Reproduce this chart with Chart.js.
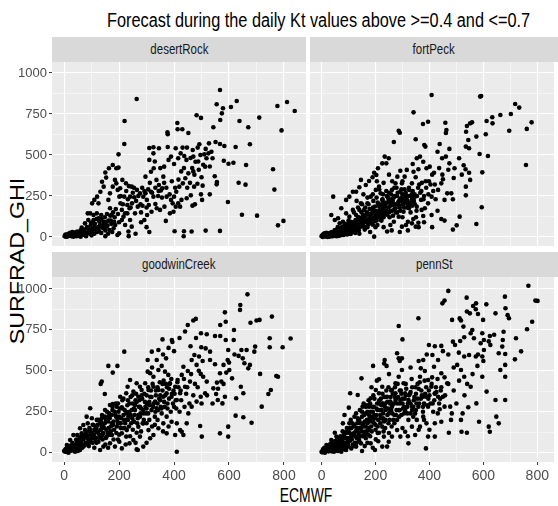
<!DOCTYPE html>
<html>
<head>
<meta charset="utf-8">
<script src="https://cdn.jsdelivr.net/npm/chart.js@4.4.1/dist/chart.umd.min.js"></script>
<style>
  body { margin: 0; width: 558px; height: 506px; background: #fff; position: relative; overflow: hidden;
         font-family: 'Liberation Sans', Arial, sans-serif; }
  canvas { position: absolute; left: 0; top: 0; }
  .strip { position: absolute; background: #d9d9d9; color: #1a1a1a; font-size: 14px; text-align: center; line-height: 25px; height: 25px; }
  .strip span { display: inline-block; transform: scaleX(0.82); }
  .lbl { position: absolute; color: #000; white-space: nowrap; line-height: 1; }
</style>
</head>
<body>
<div class="lbl" id="title" style="left:107px;top:10px;font-size:20px;transform-origin:0 0;">Forecast during the daily Kt values above &gt;=0.4 and &lt;=0.7</div>
<div class="strip" style="left:52px;top:37px;width:254px;"><span>desertRock</span></div>
<div class="strip" style="left:310px;top:37px;width:248px;"><span>fortPeck</span></div>
<div class="strip" style="left:52px;top:252px;width:254px;"><span>goodwinCreek</span></div>
<div class="strip" style="left:310px;top:252px;width:248px;"><span>pennSt</span></div>
<div class="lbl" id="ytitle" style="left:17px;top:261px;font-size:20px;">SURFRAD_GHI</div>
<div class="lbl" id="xtitle" style="left:306px;top:495px;font-size:20px;">ECMWF</div>

<canvas id="c0" width="558" height="506"></canvas>
<canvas id="c1" width="558" height="506"></canvas>
<canvas id="c2" width="558" height="506"></canvas>
<canvas id="c3" width="558" height="506"></canvas>

<script>
// axis ticks shared by all facets
const xTicks = [0, 200, 400, 600, 800];
const yTicks = [0, 250, 500, 750, 1000];
const xGrid = [0, 100, 200, 300, 400, 500, 600, 700, 800];
const yGrid = [0, 125, 250, 375, 500, 625, 750, 875, 1000];

// SURFRAD_GHI vs ECMWF, per station
const desertRock = [
  [264,841],[220,707],[219,567],[198,504],[567,896],[628,829],[607,793],[555,809],[578,785],[574,754],[568,713],[543,669],
  [482,742],[498,726],[412,695],[413,657],[430,657],[452,634],[710,728],[638,707],[670,669],[776,799],[811,823],[839,768],
  [791,650],[676,565],[624,549],[551,579],[527,571],[567,567],[583,555],[525,510],[515,537],[510,504],[492,565],[486,545],
  [468,530],[447,545],[431,545],[406,541],[377,549],[376,638],[377,626],[345,541],[325,547],[310,543],[325,510],[581,465],
  [598,447],[616,453],[662,439],[635,331],[660,319],[548,370],[555,321],[556,335],[596,213],[647,136],[702,130],[760,413],
  [765,289],[778,71],[798,98],[567,37],[515,39],[464,33],[436,35],[435,4],[402,35],[504,313],[498,260],[502,226],
  [476,199],[467,191],[513,429],[500,364],[485,325],[473,307],[461,254],[446,236],[427,226],[422,185],[415,205],[406,185],
  [398,154],[385,144],[370,98],[395,205],[373,246],[352,283],[342,250],[332,201],[318,154],[302,134],[292,104],[308,195],
  [296,266],[296,368],[316,398],[326,419],[336,348],[345,317],[357,297],[361,368],[364,429],[380,470],[389,490],[400,445],
  [415,480],[424,510],[437,494],[445,470],[460,482],[470,490],[478,459],[452,388],[441,358],[432,327],[419,307],[408,276],
  [400,246],[389,226],[365,185],[349,165],[337,175],[325,246],[316,276],[301,226],[288,246],[276,266],[265,287],[255,242],
  [247,205],[238,175],[230,144],[240,104],[246,63],[234,33],[222,73],[216,124],[210,165],[205,205],[201,246],[195,287],
  [190,327],[185,348],[177,307],[167,266],[161,226],[167,175],[173,134],[182,93],[194,12],[200,22],[155,63],[143,93],
  [135,134],[119,144],[107,104],[97,73],[82,53],[70,33],[56,12],[40,22],[28,12],[16,6],[7,2],[4,12],[22,26],[34,2],
  [48,33],[64,57],[76,83],[88,104],[95,144],[107,134],[125,114],[131,73],[143,53],[155,93],[165,43],[180,53],[186,73],
  [210,104],[222,144],[230,195],[240,246],[246,307],[225,327],[212,348],[204,297],[219,246],[258,144],[268,185],[190,419],
  [198,423],[177,439],[163,419],[150,393],[153,362],[138,337],[144,307],[132,276],[120,246],[110,226],[125,205],[102,205],
  [86,144],[60,40],[20,15],[10,8],[45,5],[30,30],[110,60],[120,30],[135,25],[150,40],[100,10],[90,50],[70,15],[160,20],
  [175,30],[235,5],[280,150],[285,190],[530,260],[530,430],[540,480],[470,400],[490,410],[350,420],[330,460],[310,470],
  [2,5],[6,15],[12,3],[15,20],[18,8],[24,14],[27,4],[32,18],[36,10],[42,28],[46,15],[52,8],[55,25],[62,20],[66,35],
  [72,45],[78,25],[84,60],[92,38],[98,88],[104,50],[112,80],[118,110],[124,60],[128,95],[136,110],[140,70],[148,120],
  [156,140],[162,100],[168,130],[172,80],[178,150],[184,120],[188,170],[196,140],[200,90],[206,250],[214,200],[226,280],
  [232,230],[236,310],[242,180],[250,270],[254,300],[262,220],[270,250],[278,200],[284,300],[292,280],[300,180],[306,290],
  [312,330],[320,270],[332,300],[344,280],[356,240],[364,330],[372,300],[384,260],[392,340],[404,300],[416,350],[426,400],
  [436,420],[448,300],[458,330],[466,420],[474,380],[488,460],[496,500],[506,440],[518,480],[536,520],[300,60],[310,30],
  [280,90],[260,20],[150,5],[110,20],[80,5],[60,2],
  [8,4],[14,12],[26,20],[38,6],[50,18],[58,30],[68,22],[74,12],[86,28],[94,20],[104,36],[116,48],[126,40],[138,60],
  [146,80],[158,70],[170,100],[180,90]
];

const fortPeck = [
  [408,866],[588,856],[592,860],[718,811],[733,789],[779,699],[761,659],[758,439],[696,648],[702,750],[663,744],[633,730],
  [612,707],[634,693],[609,626],[617,494],[586,506],[574,612],[558,699],[551,693],[539,677],[536,642],[544,591],[535,551],
  [547,541],[341,760],[376,689],[395,703],[459,697],[461,634],[463,652],[349,596],[286,648],[290,636],[268,579],[381,561],
  [385,551],[430,520],[438,567],[474,537],[447,480],[461,490],[474,449],[493,419],[527,437],[534,413],[547,392],[551,348],
  [535,307],[535,254],[596,394],[594,181],[574,79],[487,45],[512,124],[501,71],[456,100],[444,110],[408,134],[481,266],
  [487,230],[466,266],[456,226],[423,230],[432,287],[444,327],[450,352],[417,392],[401,429],[377,459],[389,419],[359,413],
  [341,398],[365,490],[353,480],[338,445],[349,364],[335,327],[325,287],[310,226],[292,276],[298,327],[292,404],[308,368],
  [316,409],[281,368],[274,327],[261,287],[240,449],[249,480],[234,490],[225,449],[209,419],[195,392],[203,378],[189,364],
  [176,341],[164,317],[146,348],[140,303],[128,276],[116,276],[103,246],[91,226],[73,175],[43,246],[36,134],[49,104],
  [61,114],[67,83],[79,93],[91,63],[109,63],[116,33],[134,43],[152,73],[164,93],[182,104],[195,2],[207,73],[219,104],
  [231,144],[243,33],[255,73],[268,93],[286,124],[298,63],[313,73],[320,93],[335,83],[349,63],[359,87],[371,165],[377,128],
  [383,175],[395,205],[408,246],[369,226],[353,185],[341,215],[324,175],[304,154],[286,195],[274,175],[261,205],[249,226],
  [237,185],[225,226],[219,266],[213,307],[201,287],[182,246],[170,205],[158,165],[146,205],[140,165],[128,134],[116,165],
  [103,124],[91,144],[79,63],
  [0,5],[5,0],[10,8],[15,3],[20,12],[25,5],[30,15],[35,8],[40,20],[45,10],[50,25],[55,5],[60,18],[8,20],[18,25],[28,2],
  [38,30],[48,40],[58,35],[68,28],[75,45],[85,30],[90,55],[95,15],[100,40],[110,35],[70,10],[80,60],[105,70],[115,55],
  [120,90],[125,25],[135,50],[145,80],[150,110],[160,90],[170,60],[175,110],[185,140],[190,75],[200,130],[210,160],
  [220,140],[225,175],[230,120],[240,160],[250,150],[255,190],[265,130],[270,170],[280,150],[290,230],[300,120],[310,250],
  [320,200],[330,150],[335,230],[345,260],[350,120],[4,14],[12,22],[22,0],[32,26],[42,4],[52,14],[62,6],[65,44],[72,20],
  [82,12],[88,38],[96,28],[102,58],[108,18],[112,88],[118,44],[124,70],[130,100],[136,120],[142,60],[148,150],[154,130],
  [162,180],[168,150],[174,200],[180,120],[186,170],[192,220],[198,160],[204,240],[210,190],[216,120],[222,200],[228,260],
  [234,210],[240,280],[246,240],[252,120],[258,260],[264,220],[272,250],[278,300],[284,210],[290,180],[296,240],[302,200],
  [308,290],[314,180],[320,250],[328,210],[336,190],[344,240],[352,160],[358,300],[366,270],[372,330],[380,250],[388,300],
  [398,340],[410,380],[420,320],[436,420],[448,380],[470,410],[490,360],[510,480],[520,380],[200,60],[180,30],[160,45],
  [140,20],[230,60],[260,40],[290,30],[320,40],[340,110],[360,60],[380,90],[410,60],[430,160],[300,340],[262,340],[250,380],
  [230,330],[214,290],[190,260],[170,240],[150,200],[135,180],[120,150],[100,100],[90,80],[60,60],[130,220],[155,260],[205,340],
  [44,30],[52,42],[58,20],[64,52],[70,38],[76,60],[82,48],[86,70],[92,32],[98,78],[104,54],[108,92],[114,66],[120,40],
  [126,104],[130,78],[134,56],[140,118],[144,92],[150,70],[156,132],[160,108],[164,60],[170,140],[174,96],[178,170],
  [184,82],[188,150],[194,118],[198,186],[204,100],[208,210],[212,140],[218,176],[222,100],[226,230],[232,160],[236,196],
  [242,136],[246,210],[250,270],[256,160],[260,230],[266,196],[270,300],[276,150],[280,250],[286,216],[292,160],[296,290],
  [302,230],[306,180],[312,270],[318,220],[324,300],[330,250],[338,280],[346,200],[354,250],[362,320],[370,280],[378,230],
  [386,340],[396,260],[404,320],[414,280],
  [30,22],[36,4],[46,22],[54,36],[60,10],[66,24],[74,32],[78,14],[84,52],[92,44],[98,20],[104,66],[112,50],[118,80],
  [122,30],[128,60],[132,92],[138,40],[146,110],[152,86],[158,60],[164,130],[168,100],[172,74],[180,140],[184,110],
  [190,180],[196,96],[202,150],[206,120],[214,196],[220,164],[226,120],[230,200],[236,140],[242,250],[248,180],[254,220],
  [262,160],[268,240],[274,200],[282,270],[288,190],[294,220],[300,260],[308,210],[316,240],[326,190],[334,260],[342,220]
];

const goodwinCreek = [
  [667,967],[641,902],[640,872],[585,857],[588,800],[756,831],[711,811],[700,807],[678,794],[824,697],[795,644],[748,699],
  [748,644],[695,648],[692,617],[664,627],[645,627],[635,591],[650,576],[656,546],[676,536],[670,515],[617,688],[618,749],
  [568,780],[479,817],[470,807],[450,780],[498,729],[519,723],[549,713],[568,713],[588,688],[597,627],[595,566],[601,505],
  [611,454],[590,489],[580,536],[567,485],[549,540],[531,566],[531,617],[515,637],[499,644],[491,587],[474,597],[464,566],
  [482,536],[497,481],[506,464],[519,434],[513,363],[497,342],[482,312],[464,281],[452,240],[446,179],[428,128],[434,108],
  [410,6],[404,108],[422,138],[410,179],[495,163],[501,98],[567,118],[597,98],[597,159],[624,226],[652,216],[682,183],
  [719,281],[743,358],[752,383],[772,468],[778,464],[713,481],[643,403],[652,363],[626,332],[585,342],[576,301],[559,322],
  [553,358],[543,393],[556,428],[572,434],[371,576],[392,688],[394,676],[358,692],[343,627],[337,566],[319,617],[304,566],
  [304,495],[313,485],[325,464],[343,505],[355,530],[367,495],[379,475],[385,424],[404,403],[413,444],[428,475],[434,525],
  [450,499],[458,434],[440,403],[422,363],[410,322],[391,342],[373,363],[361,342],[343,383],[325,403],[307,383],[295,424],
  [282,383],[270,342],[258,291],[246,261],[234,220],[252,189],[270,159],[288,179],[307,138],[313,88],[325,108],[343,149],
  [361,179],[373,220],[391,189],[373,118],[355,240],[337,271],[331,312],[313,342],[301,301],[288,261],[276,220],[264,122],
  [219,617],[194,530],[177,489],[161,530],[137,434],[133,420],[148,358],[167,291],[177,297],[191,281],[204,342],[226,363],
  [231,403],[240,444],[252,373],[276,403],[264,424],[210,277],[228,240],[218,200],[204,179],[189,220],[174,179],[161,220],
  [149,261],[137,210],[119,200],[107,169],[95,271],[86,179],[76,138],[64,118],[48,108],[46,57],[34,37],[22,26],[10,16],
  [4,6],[16,0],[28,16],[40,6],[58,16],[70,37],[82,57],[95,77],[107,98],[125,67],[131,16],[143,37],[155,98],[167,57],
  [174,108],[185,37],[201,67],[210,26],[226,98],[238,57],[252,77],[264,20],[268,16],[276,98],[288,37],[228,138],[210,118],
  [119,128],[137,159],[101,210],[82,220],[70,169],[58,149],[34,108],[22,77],[10,47],
  [0,10],[6,22],[12,4],[18,30],[26,12],[32,50],[38,22],[44,80],[52,36],[56,90],[62,60],[68,100],[74,44],[80,120],[88,80],
  [92,150],[98,110],[104,60],[110,140],[116,90],[122,170],[128,110],[134,190],[140,80],[146,150],[152,200],[158,120],
  [164,240],[170,160],[176,260],[182,140],[188,300],[194,200],[198,250],[206,150],[212,320],[216,230],[222,180],[230,290],
  [236,160],[242,340],[248,210],[254,270],[260,320],[266,180],[272,280],[278,240],[284,330],[290,200],[296,280],[300,350],
  [306,240],[310,310],[318,260],[322,420],[330,220],[334,350],[340,300],[348,430],[352,280],[358,380],[364,310],[370,420],
  [376,270],[382,390],[388,250],[396,300],[402,360],[408,270],[416,400],[420,250],[426,320],[438,280],[444,360],[456,300],
  [470,350],[486,400],[500,300],[520,350],[540,300],[560,390],[580,420],[600,550],[620,600],[160,30],[180,80],[200,110],
  [240,100],[260,60],[300,60],[320,160],[340,200],[360,130],[380,160],[150,50],[110,30],[90,40],[60,30],[50,10],[140,110],
  [196,80],[224,50],[250,140],[280,130],[300,180],[330,170],[350,320],[320,520],[360,600],[380,640],[420,700],[440,740],
  [400,620],[460,650],[480,700],
  [40,20],[48,50],[54,28],[60,76],[66,46],[72,90],[78,60],[84,104],[90,130],[96,70],[102,120],[108,90],[114,160],[118,60],
  [124,130],[130,180],[136,100],[142,170],[148,220],[154,140],[160,190],[166,110],[172,230],[178,170],[184,250],[190,120],
  [196,180],[202,270],[208,210],[214,150],[220,260],[226,200],[232,320],[238,250],[244,180],[250,300],[256,230],[262,360],
  [268,210],[274,320],[280,270],[286,180],[292,360],[298,240],[304,300],[310,200],[316,380],[324,280],[332,250],[340,400],
  [346,330],[354,270],[362,440],[368,350],[376,300],[384,420],[392,360],[400,280],[412,430],[424,380],[436,450],[448,400],
  [462,480],[476,420],[490,500],[504,560],
  [4,18],[10,30],[14,8],[20,42],[26,28],[30,60],[36,14],[42,44],[46,72],[52,20],[56,58],[62,100],[66,30],[70,80],[76,110],
  [80,50],[86,96],[90,60],[94,140],[100,90],[104,170],[110,110],[114,70],[118,150],[124,200],[128,90],[134,140],[138,230],
  [142,120],[148,180],[152,90],[156,250],[162,150],[166,210],[170,130],[176,280],[180,190],[186,230],[192,160],[196,300],
  [200,220],[206,180],[212,270],[216,330],[220,150],[226,250],[232,200],[238,300],[242,230],[248,350],[254,190],[258,260],
  [264,310],[270,230],[276,280],[282,350],[288,240],[294,310],[300,270],[306,400],[312,290],[318,340],[326,300],[334,380],
  [342,260],[350,350],[358,420],[366,280],[374,400],[382,330],[390,450],[398,380],[406,320]
];

const pennSt = [
  [767,1020],[793,929],[801,927],[781,800],[762,754],[740,619],[717,570],[721,699],[680,953],[682,882],[695,821],[690,840],
  [645,851],[611,906],[573,912],[572,876],[562,896],[538,947],[539,862],[550,851],[580,847],[599,811],[517,807],[512,820],
  [526,770],[484,811],[470,988],[456,929],[448,912],[359,821],[286,774],[300,692],[398,658],[444,652],[487,678],[495,658],
  [514,682],[529,705],[553,729],[559,749],[565,699],[596,729],[602,688],[590,668],[624,713],[626,658],[675,739],[672,688],
  [670,648],[681,603],[681,536],[681,464],[663,505],[657,607],[602,627],[596,587],[572,587],[547,597],[529,587],[509,611],
  [503,536],[517,505],[529,464],[553,403],[574,301],[544,277],[523,240],[517,200],[519,128],[539,122],[584,189],[620,159],
  [624,128],[648,220],[657,179],[645,322],[681,322],[612,373],[596,464],[578,530],[480,200],[483,240],[472,122],[444,189],
  [431,240],[477,281],[466,424],[444,485],[417,525],[432,566],[411,597],[377,566],[368,515],[365,464],[383,499],[395,444],
  [407,403],[420,363],[432,342],[450,342],[456,281],[438,265],[414,250],[395,281],[377,342],[359,281],[347,240],[335,281],
  [322,322],[310,363],[304,424],[298,576],[286,576],[280,607],[234,566],[241,530],[232,545],[213,448],[191,530],[225,403],
  [213,363],[201,383],[182,332],[176,281],[164,240],[152,281],[134,352],[106,363],[148,454],[101,275],[85,230],[79,179],
  [49,122],[55,98],[36,77],[18,47],[6,16],[0,6],[12,0],[24,16],[43,26],[61,37],[79,57],[97,77],[116,108],[134,128],
  [152,159],[170,179],[188,220],[207,261],[225,301],[243,342],[261,383],[274,424],[286,464],[298,505],[274,322],[261,281],
  [249,240],[237,200],[225,159],[213,122],[201,81],[198,16],[182,57],[164,88],[146,57],[128,37],[110,26],[91,16],[73,6],
  [67,77],[91,128],[103,179],[122,220],[140,200],[158,128],[176,138],[195,179],[219,210],[237,261],[255,312],[274,363],
  [292,322],[310,261],[322,200],[335,159],[347,108],[353,200],[365,159],[377,220],[389,179],[395,98],[387,26],[420,98],
  [249,67],[243,37],[261,98],[280,138],[292,98],[310,128],[322,57],[225,37],[231,98],
  [2,2],[8,10],[14,4],[20,24],[26,8],[30,34],[34,14],[40,44],[46,6],[50,60],[54,20],[58,80],[64,30],[70,100],[74,50],
  [78,130],[84,40],[88,90],[94,150],[98,60],[104,120],[108,200],[112,80],[118,160],[124,100],[128,240],[132,180],[138,110],
  [142,260],[146,150],[150,220],[156,300],[160,190],[166,130],[170,250],[174,320],[178,210],[184,160],[188,280],[192,350],
  [196,230],[200,140],[206,300],[210,200],[216,260],[220,330],[228,240],[232,190],[236,300],[240,380],[246,270],[252,200],
  [256,340],[262,240],[268,300],[272,400],[278,260],[284,340],[288,220],[294,380],[300,300],[306,240],[312,420],[318,280],
  [324,350],[330,240],[336,400],[342,320],[350,360],[356,420],[362,300],[370,380],[376,280],[382,440],[390,340],[398,380],
  [404,300],[410,460],[418,320],[424,400],[436,300],[442,380],[458,350],[470,420],[490,380],[500,300],[510,440],[530,350],
  [540,420],[560,480],[580,600],[600,560],[620,680],[640,720],[120,40],[140,70],[160,40],[180,100],[210,70],[230,130],
  [260,160],[280,200],[300,150],[320,100],[340,220],[360,140],[380,200],[400,140],[420,180],[150,10],[170,60],[190,30],
  [250,120],[270,180],[290,260],[330,300],[350,260],[100,40],[60,10],[40,60],[86,20],[66,50],[110,150],[130,60],[185,400],
  [205,440],[250,480],[290,560],[330,520],[360,560],[390,600],[420,650],[450,620],[470,600],[490,520],
  [36,30],[42,14],[48,48],[52,30],[60,62],[66,20],[72,76],[76,40],[82,100],[86,60],[92,120],[96,36],[102,90],[106,150],
  [112,110],[116,50],[122,170],[126,130],[130,90],[136,200],[140,150],[144,100],[150,250],[154,180],[158,110],[164,280],
  [168,200],[172,150],[176,230],[180,300],[186,190],[190,250],[196,330],[200,210],[204,270],[208,160],[214,320],[218,230],
  [222,290],[226,360],[230,200],[234,280],[238,340],[244,230],[248,400],[254,300],[258,260],[264,360],[270,230],[276,330],
  [282,420],[290,300],[296,360],[302,270],[308,330],[314,390],[320,300],[328,360],[334,450],[340,280],[348,400],[356,330],
  [364,430],[372,350],[380,300],[388,400],[396,330],[408,420],[420,360],[430,450],[444,400],[456,460],
  [5,20],[10,30],[16,12],[22,40],[28,20],[32,52],[38,8],[44,30],[48,70],[56,40],[62,90],[68,60],[72,24],[78,80],[84,110],
  [90,50],[94,90],[100,130],[104,70],[110,100],[114,180],[120,120],[124,60],[130,150],[134,210],[138,80],[144,180],[148,130],
  [152,100],[158,230],[162,160],[168,290],[172,110],[176,190],[182,250],[186,130],[190,200],[194,280],[200,170],[204,230],
  [208,120],[212,300],[218,180],[222,260],[228,210],[232,340],[236,150],[240,270],[244,310],[248,180],[254,250],[258,380],
  [262,290],[266,200],[272,340],[276,230],[280,300],[286,260],[290,380],[296,230],[300,330],[306,280],[312,350],[318,240],
  [324,310],[330,370],[336,260],[344,340],[352,300],[360,390],[368,330],[376,250],[384,360],[392,290],[400,350],[412,300],
  [426,370],[440,330]
];

const FONT = "'Liberation Sans', Arial, sans-serif";
const W = 558, H = 506;
const Y_AXIS_W = 40, X_AXIS_H = 28;

// squeeze the html labels to the narrow look of the original
function squeeze(id, target, extra) {
  const el = document.getElementById(id);
  const s = target / el.offsetWidth;
  el.style.transform = extra + ' scaleX(' + s.toFixed(3) + ')';
}
squeeze('title', 423, '');
squeeze('xtitle', 53, 'translate(-50%,-50%)');
squeeze('ytitle', 166, 'translate(-50%,-50%) rotate(-90deg)');

// grey panel background
const panelBg = {
  id: 'panelBg',
  beforeDraw(chart) {
    const { ctx, chartArea: a } = chart;
    ctx.save();
    ctx.fillStyle = '#ebebeb';
    ctx.fillRect(a.left, a.top, a.right - a.left, a.bottom - a.top);
    ctx.restore();
  },
};

function facet(id, pts, box, showX, showY) {
  const isMajorX = v => xTicks.includes(v);
  const isMajorY = v => yTicks.includes(v);
  const yw = showY ? Y_AXIS_W : 0;
  const xh = showX ? X_AXIS_H : 0;
  return new Chart(document.getElementById(id), {
    type: 'scatter',
    data: {
      datasets: [{
        data: pts.map(p => ({ x: p[0], y: p[1] })),
        backgroundColor: '#000',
        borderWidth: 0,
        pointRadius: 2.3,
      }],
    },
    options: {
      responsive: false,
      animation: false,
      events: [],
      layout: { padding: { left: box.l - yw, top: box.t, right: W - box.r, bottom: H - box.b - xh } },
      plugins: { legend: { display: false }, tooltip: { enabled: false } },
      scales: {
        x: {
          type: 'linear',
          min: box.xmin,
          max: box.xmax,
          afterBuildTicks: s => { s.ticks = xGrid.map(v => ({ value: v })); },
          afterFit: s => { s.height = xh; },
          border: { display: false },
          grid: {
            color: '#fff',
            lineWidth: c => (isMajorX(c.tick.value) ? 1.1 : 0.5),
            drawTicks: showX,
            tickLength: 3,
            tickWidth: 1,
            tickColor: c => (isMajorX(c.tick.value) ? '#333' : 'rgba(0,0,0,0)'),
          },
          ticks: {
            display: showX,
            autoSkip: false,
            maxRotation: 0,
            padding: 3,
            color: '#4d4d4d',
            font: { family: FONT, size: 14 },
            callback: v => (isMajorX(v) ? String(v) : ''),
          },
        },
        y: {
          type: 'linear',
          min: box.ymin,
          max: box.ymax,
          afterBuildTicks: s => { s.ticks = yGrid.map(v => ({ value: v })); },
          afterFit: s => { s.width = yw; },
          border: { display: false },
          grid: {
            color: '#fff',
            lineWidth: c => (isMajorY(c.tick.value) ? 1.1 : 0.5),
            drawTicks: showY,
            tickLength: 3,
            tickWidth: 1,
            tickColor: c => (isMajorY(c.tick.value) ? '#333' : 'rgba(0,0,0,0)'),
          },
          ticks: {
            display: showY,
            autoSkip: false,
            padding: 2,
            color: '#4d4d4d',
            font: { family: FONT, size: 13 },
            callback: v => (isMajorY(v) ? String(v) : ''),
          },
        },
      },
    },
    plugins: [panelBg],
  });
}

facet('c0', desertRock,   { l: 52,  t: 62,  r: 306, b: 246, xmin: -44, xmax: 880, ymin: -55, ymax: 1067 }, false, true);
facet('c1', fortPeck,     { l: 310, t: 62,  r: 558, b: 246, xmin: -43, xmax: 862, ymin: -55, ymax: 1067 }, false, false);
facet('c2', goodwinCreek, { l: 52,  t: 277, r: 306, b: 462, xmin: -44, xmax: 880, ymin: -57, ymax: 1073 }, true,  true);
facet('c3', pennSt,       { l: 310, t: 277, r: 558, b: 462, xmin: -43, xmax: 862, ymin: -57, ymax: 1073 }, true,  false);
</script>
</body>
</html>
